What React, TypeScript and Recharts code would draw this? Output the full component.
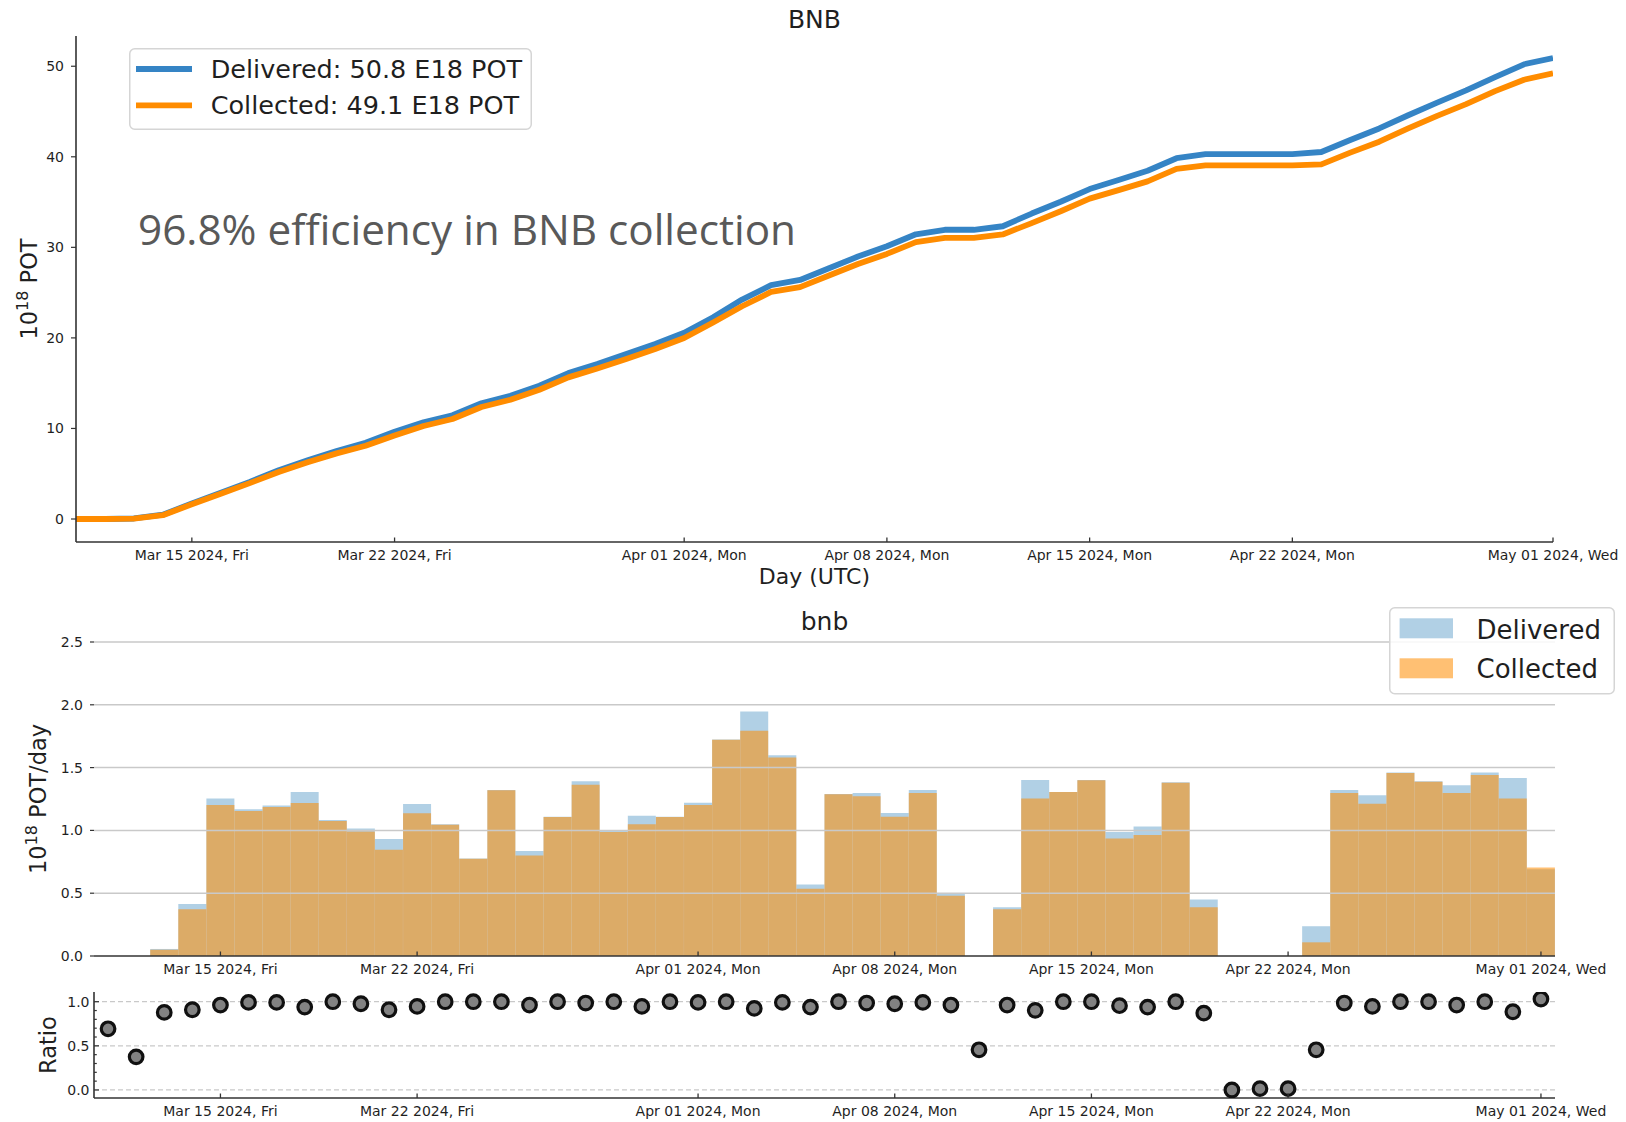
import {
  LineChart, Line, BarChart, Bar, ScatterChart, Scatter,
  XAxis, YAxis, Legend, ReferenceLine,
} from "recharts";

const FONT = "'DejaVu Sans', sans-serif";
const INK = "#1f1f1f";
const SPINE = "#333333";
const GRID = "#c9c9c9";
const BLUE = "#3584c5";
const ORANGE = "#ff8c00";
const HIST_BLUE = "#1f77b4";
const HIST_ORANGE = "#ff8c00";

// one entry per day, Mar 11 .. May 01 2024
const days = [
  "Mar 11", "Mar 12", "Mar 13", "Mar 14", "Mar 15", "Mar 16", "Mar 17", "Mar 18", "Mar 19", "Mar 20",
  "Mar 21", "Mar 22", "Mar 23", "Mar 24", "Mar 25", "Mar 26", "Mar 27", "Mar 28", "Mar 29", "Mar 30",
  "Mar 31", "Apr 01", "Apr 02", "Apr 03", "Apr 04", "Apr 05", "Apr 06", "Apr 07", "Apr 08", "Apr 09",
  "Apr 10", "Apr 11", "Apr 12", "Apr 13", "Apr 14", "Apr 15", "Apr 16", "Apr 17", "Apr 18", "Apr 19",
  "Apr 20", "Apr 21", "Apr 22", "Apr 23", "Apr 24", "Apr 25", "Apr 26", "Apr 27", "Apr 28", "Apr 29",
  "Apr 30", "May 01",
];

// daily POT, units of 1e18
const delivered = [
  0, 0, 0.056, 0.415, 1.253, 1.168, 1.199, 1.306, 1.082, 1.016,
  0.931, 1.21, 1.048, 0.777, 1.322, 0.835, 1.109, 1.391, 0.995, 1.117,
  1.109, 1.221, 1.723, 1.947, 1.598, 0.569, 1.29, 1.298, 1.138, 1.322,
  0.497, 0, 0.388, 1.402, 1.306, 1.402, 0.987, 1.032, 1.383, 0.449,
  0, 0, 0, 0.237, 1.322, 1.279, 1.46, 1.391, 1.359, 1.46,
  1.418, 0.69,
];

const collected = [
  0, 0, 0.05, 0.372, 1.202, 1.154, 1.186, 1.218, 1.074, 0.992,
  0.846, 1.136, 1.045, 0.774, 1.319, 0.8, 1.106, 1.364, 0.987, 1.048,
  1.106, 1.202, 1.721, 1.793, 1.58, 0.535, 1.287, 1.271, 1.109, 1.298,
  0.479, 0, 0.372, 1.253, 1.306, 1.399, 0.936, 0.963, 1.38, 0.388,
  0, 0, 0, 0.109, 1.298, 1.213, 1.457, 1.388, 1.298, 1.441,
  1.253, 0.705,
];

const ratio = [
  0.693, 0.375, 0.879, 0.909, 0.962, 0.992, 0.992, 0.939, 1.0, 0.977,
  0.909, 0.947, 1.0, 1.0, 1.0, 0.962, 1.0, 0.985, 1.0, 0.947,
  1.0, 0.992, 1.0, 0.924, 0.992, 0.939, 1.0, 0.985, 0.977, 0.992,
  0.962, 0.455, 0.962, 0.902, 1.0, 1.0, 0.955, 0.939, 1.0, 0.871,
  0.0, 0.015, 0.015, 0.455, 0.985, 0.947, 1.0, 1.0, 0.962, 1.0,
  0.886, 1.03,
];

const lineNames = ["Delivered: 50.8 E18 POT", "Collected: 49.1 E18 POT"];
const barNames = ["Delivered", "Collected"];
const barOpacity = [0.35, 0.55];

const tickDays = ["Mar 15", "Mar 22", "Apr 01", "Apr 08", "Apr 15", "Apr 22", "May 01"];
const tickLabels = [
  "Mar 15 2024, Fri", "Mar 22 2024, Fri", "Apr 01 2024, Mon", "Apr 08 2024, Mon",
  "Apr 15 2024, Mon", "Apr 22 2024, Mon", "May 01 2024, Wed",
];
const cumTicks = [0, 10, 20, 30, 40, 50];
const rateTicks = [0, 0.5, 1, 1.5, 2, 2.5];
const ratioTicks = [0, 0.1, 0.2, 0.3, 0.4, 0.5, 0.6, 0.7, 0.8, 0.9, 1.0];
const ratioGrid = [0, 0.5, 1];

const tickIdx = tickDays.map((d) => days.indexOf(d));

let dSum = 0;
let cSum = 0;
const cumData = days.map((day, i) => {
  dSum += delivered[i];
  cSum += collected[i];
  return { i, day, delivered: dSum, collected: cSum };
});
const dailyData = days.map((day, i) => ({ day, delivered: delivered[i], collected: collected[i] }));
const ratioData = days.map((day, i) => ({ i, r: ratio[i] }));

const labelFor = (v: number | string) => {
  const key = typeof v === "number" ? days[v] : v;
  const k = tickDays.indexOf(key);
  return k >= 0 ? tickLabels[k] : "";
};

const ordered = (payload: any[] | undefined, names: string[]) =>
  [...(payload || [])].sort((a, b) => names.indexOf(a.value) - names.indexOf(b.value));

// matplotlib style: tick pointing into the axes, label under the axis
function BottomTick(props: any) {
  const { x, y, payload } = props;
  return (
    <g>
      <line x1={x} x2={x} y1={y} y2={y - 4.5} stroke={SPINE} strokeWidth={1.3} />
      <text x={x} y={y + 17.5} textAnchor="middle" fontSize={14} fill={INK} fontFamily={FONT}>
        {labelFor(payload.value)}
      </text>
    </g>
  );
}

function TopTick(props: any) {
  const { x, y } = props;
  return <line x1={x} x2={x} y1={y} y2={y + 4.5} stroke={SPINE} strokeWidth={1.3} />;
}

function RatioYTick(props: any) {
  const { x, y, payload } = props;
  const v = payload.value as number;
  const major = Math.abs(v * 2 - Math.round(v * 2)) < 1e-6;
  return (
    <g>
      <line x1={x} x2={x + (major ? 5 : 2.8)} y1={y} y2={y} stroke={SPINE} strokeWidth={1.2} />
      {major && (
        <text x={x - 4.5} y={y} dy="0.355em" textAnchor="end" fontSize={14} fill={INK} fontFamily={FONT}>
          {v.toFixed(1)}
        </text>
      )}
    </g>
  );
}

function TopLegend(props: any) {
  const items = ordered(props.payload, lineNames);
  return (
    <svg width={403} height={82} style={{ display: "block" }}>
      <rect x={0.75} y={0.75} width={401.5} height={80.5} rx={5} fill="#fff" fillOpacity={0.85} stroke="#d5d5d5" strokeWidth={1.5} />
      {items.map((it: any, k: number) => (
        <g key={k}>
          <line x1={7} x2={63} y1={21 + k * 36.3} y2={21 + k * 36.3} stroke={it.color} strokeWidth={5.8} />
          <text x={81.7} y={29.7 + k * 36.3} fontSize={25.5} fill={INK} fontFamily={FONT}>
            {it.value}
          </text>
        </g>
      ))}
    </svg>
  );
}

function BarLegend(props: any) {
  const items = ordered(props.payload, barNames);
  return (
    <svg width={226} height={88} style={{ display: "block" }}>
      <rect x={0.75} y={0.75} width={224.5} height={86} rx={5} fill="#fff" fillOpacity={0.85} stroke="#d5d5d5" strokeWidth={1.5} />
      {items.map((it: any, k: number) => (
        <g key={k}>
          <rect x={10.6} y={11.3 + k * 40} width={53.4} height={20} fill={it.color}
            fillOpacity={barOpacity[barNames.indexOf(it.value)]} />
          <text x={87.5} y={31.6 + k * 38.9} fontSize={26} fill={INK} fontFamily={FONT}>
            {it.value}
          </text>
        </g>
      ))}
    </svg>
  );
}

function CumulativeChart() {
  return (
    <LineChart width={1626} height={600} data={cumData} margin={{ top: 36, right: 73, bottom: 18, left: 16 }}>
      <XAxis
        dataKey="i" type="number" domain={[0, 51]} ticks={tickIdx} interval={0} allowDataOverflow
        height={40} tickSize={0} tickMargin={0} tickLine={false} tick={(p: any) => <BottomTick {...p} />}
        axisLine={{ stroke: SPINE, strokeWidth: 1.6 }}
      />
      <XAxis
        xAxisId="top" orientation="top" dataKey="i" type="number" domain={[0, 51]} allowDataOverflow
        height={0} tick={false} tickLine={false} axisLine={{ stroke: SPINE, strokeWidth: 1.6 }}
      />
      <YAxis
        type="number" domain={[-2.54, 53.34]} ticks={cumTicks} interval={0} allowDataOverflow width={60}
        tickSize={5} tickMargin={7} tick={{ fontSize: 14, fill: INK, fontFamily: FONT }}
        tickLine={{ stroke: SPINE, strokeWidth: 1.2 }} axisLine={{ stroke: SPINE, strokeWidth: 1.6 }}
      />
      <YAxis
        yAxisId="right" orientation="right" type="number" domain={[-2.54, 53.34]} allowDataOverflow
        width={0} tick={false} tickLine={false} axisLine={{ stroke: SPINE, strokeWidth: 1.6 }}
      />
      <Line
        dataKey="delivered" name={lineNames[0]} stroke={BLUE} strokeWidth={5.8}
        dot={false} strokeLinejoin="round" isAnimationActive={false}
      />
      <Line
        dataKey="collected" name={lineNames[1]} stroke={ORANGE} strokeWidth={5.8}
        dot={false} strokeLinejoin="round" isAnimationActive={false}
      />
      <Legend
        layout="vertical" verticalAlign="middle" align="center"
        wrapperStyle={{ left: 129, top: 48, width: 403, height: 82 }}
        content={(p: any) => <TopLegend payload={p.payload} />}
      />
    </LineChart>
  );
}

function DailyChart() {
  return (
    <BarChart
      width={1626} height={400} data={dailyData} barCategoryGap={0} barGap={0}
      margin={{ top: 52, right: 71, bottom: 4, left: 34 }}
    >
      <XAxis
        dataKey="day" ticks={tickDays} interval={0} height={30} tickSize={0} tickMargin={0}
        tickLine={false} tick={(p: any) => <BottomTick {...p} />}
        axisLine={{ stroke: SPINE, strokeWidth: 1.6 }}
      />
      <XAxis xAxisId="c" dataKey="day" hide />
      <YAxis
        type="number" domain={[0, 2.5]} ticks={rateTicks} interval={0} allowDataOverflow width={60}
        tickSize={4} tickMargin={7} axisLine={false} tickLine={{ stroke: SPINE, strokeWidth: 1.2 }}
        tick={{ fontSize: 14, fill: INK, fontFamily: FONT }} tickFormatter={(v: number) => v.toFixed(1)}
      />
      <Bar dataKey="delivered" name={barNames[0]} fill={HIST_BLUE} fillOpacity={barOpacity[0]} isAnimationActive={false} />
      <Bar dataKey="collected" name={barNames[1]} xAxisId="c" fill={HIST_ORANGE} fillOpacity={barOpacity[1]} isAnimationActive={false} />
      {rateTicks.filter((v) => v > 0).map((v) => (
        <ReferenceLine key={v} y={v} stroke={GRID} strokeWidth={1.5} />
      ))}
      <Legend
        layout="vertical" verticalAlign="middle" align="center"
        wrapperStyle={{ left: 1389, top: 16.7, width: 226, height: 88 }}
        content={(p: any) => <BarLegend payload={p.payload} />}
      />
    </BarChart>
  );
}

function RatioChart() {
  return (
    <ScatterChart width={1626} height={142} margin={{ top: 12, right: 71, bottom: 4, left: 34 }}>
      <XAxis
        dataKey="i" type="number" domain={[-0.5, 51.5]} ticks={tickIdx} interval={0} allowDataOverflow
        height={20} tickSize={0} tickMargin={0} tickLine={false} tick={(p: any) => <BottomTick {...p} />}
        axisLine={{ stroke: SPINE, strokeWidth: 1.6 }}
      />
      <XAxis
        xAxisId="top" orientation="top" dataKey="i" type="number" domain={[-0.5, 51.5]} ticks={tickIdx}
        interval={0} allowDataOverflow height={0} tickSize={0} tickMargin={0} tickLine={false}
        tick={(p: any) => <TopTick {...p} />} axisLine={{ stroke: SPINE, strokeWidth: 1.6 }}
      />
      <YAxis
        dataKey="r" type="number" domain={[-0.091, 1.11]} ticks={ratioTicks} interval={0} allowDataOverflow
        width={60} tickSize={0} tickMargin={0} tickLine={false} tick={(p: any) => <RatioYTick {...p} />}
        axisLine={{ stroke: SPINE, strokeWidth: 1.6 }}
      />
      <YAxis
        yAxisId="right" orientation="right" type="number" domain={[-0.091, 1.11]} allowDataOverflow
        width={0} tick={false} tickLine={false} axisLine={{ stroke: SPINE, strokeWidth: 1.6 }}
      />
      {ratioGrid.map((v) => (
        <ReferenceLine key={v} y={v} stroke={GRID} strokeWidth={1.2} strokeDasharray="5 3" />
      ))}
      <Scatter
        data={ratioData} dataKey="r" isAnimationActive={false}
        shape={(p: any) => <circle cx={p.cx} cy={p.cy} r={6.8} fill="#828282" stroke="#101010" strokeWidth={3.2} />}
      />
    </ScatterChart>
  );
}

function Overlay() {
  return (
    <svg width={1626} height={1122} style={{ position: "absolute", left: 0, top: 0, pointerEvents: "none" }}>
      <g fontFamily={FONT} fill={INK}>
        <text x={814.4} y={27.7} textAnchor="middle" fontSize={25}>BNB</text>
        <text x={814.4} y={584} textAnchor="middle" fontSize={22}>Day (UTC)</text>
        <text x={824.5} y={630} textAnchor="middle" fontSize={25}>bnb</text>
        <text transform="translate(36.6,289) rotate(-90)" textAnchor="middle" fontSize={22.5}>
          10<tspan fontSize={16} dy={-8.5}>18</tspan>
          <tspan dy={8.5}> POT</tspan>
        </text>
        <text transform="translate(45.5,799) rotate(-90)" textAnchor="middle" fontSize={22.5}>
          10<tspan fontSize={16} dy={-8.5}>18</tspan>
          <tspan dy={8.5}> POT/day</tspan>
        </text>
        <text transform="translate(56,1045) rotate(-90)" textAnchor="middle" fontSize={22.5}>Ratio</text>
      </g>
      <text x={138} y={245} fontFamily="'Open Sans', sans-serif" fontSize={42} fill="#595959" textLength={658} lengthAdjust="spacingAndGlyphs">
        96.8% efficiency in BNB collection
      </text>
    </svg>
  );
}

export default function App() {
  return (
    <div style={{ position: "absolute", left: 0, top: 0, width: 1626, height: 1122, background: "#fff", fontFamily: FONT }}>
      <div style={{ position: "absolute", left: 0, top: 0 }}>
        <CumulativeChart />
      </div>
      <div style={{ position: "absolute", left: 0, top: 590 }}>
        <DailyChart />
      </div>
      <div style={{ position: "absolute", left: 0, top: 980 }}>
        <RatioChart />
      </div>
      <Overlay />
    </div>
  );
}
